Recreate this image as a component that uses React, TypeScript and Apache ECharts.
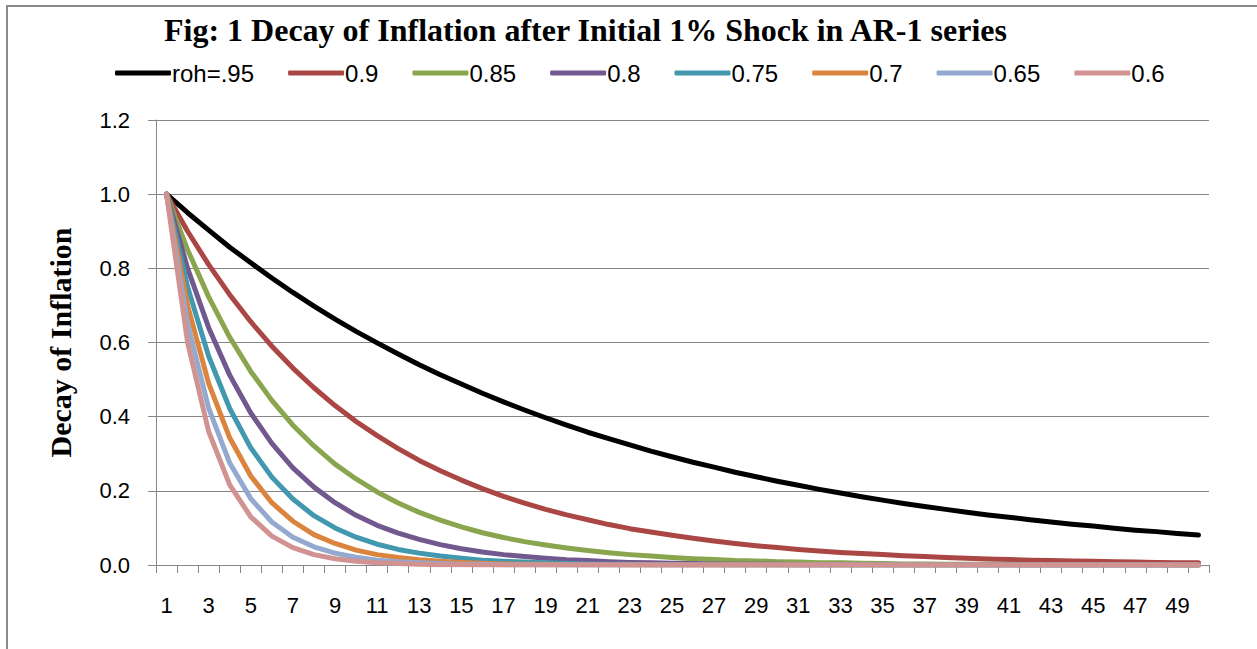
import React, { useEffect, useRef } from "react";
import * as echarts from "echarts";

const periods: string[] = Array.from({ length: 50 }, (_, i) => String(i + 1));

const seriesNames = ["roh=.95", "0.9", "0.85", "0.8", "0.75", "0.7", "0.65", "0.6"];
const seriesColors = ["#000000", "#AA4643", "#89A54E", "#71588F", "#4198AF", "#DB843D", "#93A9CF", "#D19392"];

const r95 = [1.000,0.950,0.903,0.857,0.815,0.774,0.735,0.698,0.663,0.630,0.599,0.569,0.540,0.513,0.488,0.463,0.440,0.418,0.397,0.377,0.358,0.341,0.324,0.307,0.292,0.277,0.264,0.250,0.238,0.226,0.215,0.204,0.194,0.184,0.175,0.166,0.158,0.150,0.142,0.135,0.129,0.122,0.116,0.110,0.105,0.099,0.094,0.090,0.085,0.081];
const r90 = [1.000,0.900,0.810,0.729,0.656,0.590,0.531,0.478,0.430,0.387,0.349,0.314,0.282,0.254,0.229,0.206,0.185,0.167,0.150,0.135,0.122,0.109,0.098,0.089,0.080,0.072,0.065,0.058,0.052,0.047,0.042,0.038,0.034,0.031,0.028,0.025,0.023,0.020,0.018,0.016,0.015,0.013,0.012,0.011,0.010,0.009,0.008,0.007,0.006,0.006];
const r85 = [1.000,0.850,0.723,0.614,0.522,0.444,0.377,0.321,0.272,0.232,0.197,0.167,0.142,0.121,0.103,0.087,0.074,0.063,0.054,0.046,0.039,0.033,0.028,0.024,0.020,0.017,0.015,0.012,0.011,0.009,0.008,0.006,0.006,0.005,0.004,0.003,0.003,0.002,0.002,0.002,0.002,0.001,0.001,0.001,0.001,0.001,0.001,0.000,0.000,0.000];
const r80 = [1.000,0.800,0.640,0.512,0.410,0.328,0.262,0.210,0.168,0.134,0.107,0.086,0.069,0.055,0.044,0.035,0.028,0.023,0.018,0.014,0.012,0.009,0.007,0.006,0.005,0.004,0.003,0.002,0.002,0.002,0.001,0.001,0.001,0.001,0.001,0.000,0.000,0.000,0.000,0.000,0.000,0.000,0.000,0.000,0.000,0.000,0.000,0.000,0.000,0.000];
const r75 = [1.000,0.750,0.563,0.422,0.316,0.237,0.178,0.133,0.100,0.075,0.056,0.042,0.032,0.024,0.018,0.013,0.010,0.008,0.006,0.004,0.003,0.002,0.002,0.001,0.001,0.001,0.001,0.000,0.000,0.000,0.000,0.000,0.000,0.000,0.000,0.000,0.000,0.000,0.000,0.000,0.000,0.000,0.000,0.000,0.000,0.000,0.000,0.000,0.000,0.000];
const r70 = [1.000,0.700,0.490,0.343,0.240,0.168,0.118,0.082,0.058,0.040,0.028,0.020,0.014,0.010,0.007,0.005,0.003,0.002,0.002,0.001,0.001,0.001,0.000,0.000,0.000,0.000,0.000,0.000,0.000,0.000,0.000,0.000,0.000,0.000,0.000,0.000,0.000,0.000,0.000,0.000,0.000,0.000,0.000,0.000,0.000,0.000,0.000,0.000,0.000,0.000];
const r65 = [1.000,0.650,0.423,0.275,0.179,0.116,0.075,0.049,0.032,0.021,0.013,0.009,0.006,0.004,0.002,0.002,0.001,0.001,0.000,0.000,0.000,0.000,0.000,0.000,0.000,0.000,0.000,0.000,0.000,0.000,0.000,0.000,0.000,0.000,0.000,0.000,0.000,0.000,0.000,0.000,0.000,0.000,0.000,0.000,0.000,0.000,0.000,0.000,0.000,0.000];
const r60 = [1.000,0.600,0.360,0.216,0.130,0.078,0.047,0.028,0.017,0.010,0.006,0.004,0.002,0.001,0.001,0.000,0.000,0.000,0.000,0.000,0.000,0.000,0.000,0.000,0.000,0.000,0.000,0.000,0.000,0.000,0.000,0.000,0.000,0.000,0.000,0.000,0.000,0.000,0.000,0.000,0.000,0.000,0.000,0.000,0.000,0.000,0.000,0.000,0.000,0.000];

const allSeries = [r95, r90, r85, r80, r75, r70, r65, r60];

const titleText = "Fig: 1 Decay of Inflation after Initial 1% Shock in AR-1 series";
const yAxisName = "Decay of Inflation";

const sansFont = "'Liberation Sans', Arial, sans-serif";
const serifFont = "'Liberation Serif', 'Times New Roman', serif";

export default function App() {
  const ref = useRef<HTMLDivElement>(null);
  useEffect(() => {
    if (!ref.current) return;
    const chart = echarts.init(ref.current, null, { renderer: "svg" });
    chart.setOption({
      animation: false,
      backgroundColor: "#ffffff",
      title: {
        text: titleText,
        left: 159,
        top: 9,
        textStyle: { fontFamily: serifFont, fontWeight: "bold", fontSize: 32, color: "#000" },
      },
      legend: {
        left: 110,
        top: 56,
        itemWidth: 56,
        itemHeight: 5,
        itemGap: 34,
        icon: "roundRect",
        textStyle: { fontFamily: sansFont, fontSize: 24, color: "#000", padding: [0, 0, 0, -4] },
        data: seriesNames,
      },
      graphic: [
        {
          type: "rect",
          shape: { x: 7, y: 6, width: 1400, height: 800 },
          style: { fill: "none", stroke: "#8a8a8a", lineWidth: 2 },
          silent: true,
        },
      ],
      grid: { left: 156, right: 48, top: 120, bottom: 84, containLabel: false },
      xAxis: {
        type: "category",
        data: periods,
        boundaryGap: true,
        axisLine: { lineStyle: { color: "#868686", width: 1 } },
        axisTick: { show: true, interval: 0, length: 8, lineStyle: { color: "#868686" } },
        axisLabel: { interval: 1, margin: 29, fontFamily: sansFont, fontSize: 22, color: "#000" },
        splitLine: { show: false },
      },
      yAxis: {
        type: "value",
        min: 0,
        max: 1.2,
        interval: 0.2,
        name: yAxisName,
        nameLocation: "middle",
        nameGap: 81,
        nameRotate: 90,
        nameTextStyle: { fontFamily: serifFont, fontWeight: "bold", fontSize: 30, color: "#000" },
        axisLine: { show: true, lineStyle: { color: "#868686", width: 1 } },
        axisTick: { show: true, length: 8, lineStyle: { color: "#868686" } },
        axisLabel: {
          margin: 26,
          fontFamily: sansFont,
          fontSize: 22,
          color: "#000",
          formatter: (v: number) => v.toFixed(1),
        },
        splitLine: { show: true, lineStyle: { color: "#868686", width: 1 } },
      },
      series: allSeries.map((d, i) => ({
        name: seriesNames[i],
        type: "line",
        data: d,
        showSymbol: false,
        symbol: "none",
        smooth: false,
        color: seriesColors[i],
        lineStyle: { color: seriesColors[i], width: 5, cap: "round", join: "round" },
      })),
    });
    return () => chart.dispose();
  }, []);
  return (
    <div
      ref={ref}
      style={{ position: "absolute", left: 0, top: 0, width: 1257, height: 649 }}
    />
  );
}
